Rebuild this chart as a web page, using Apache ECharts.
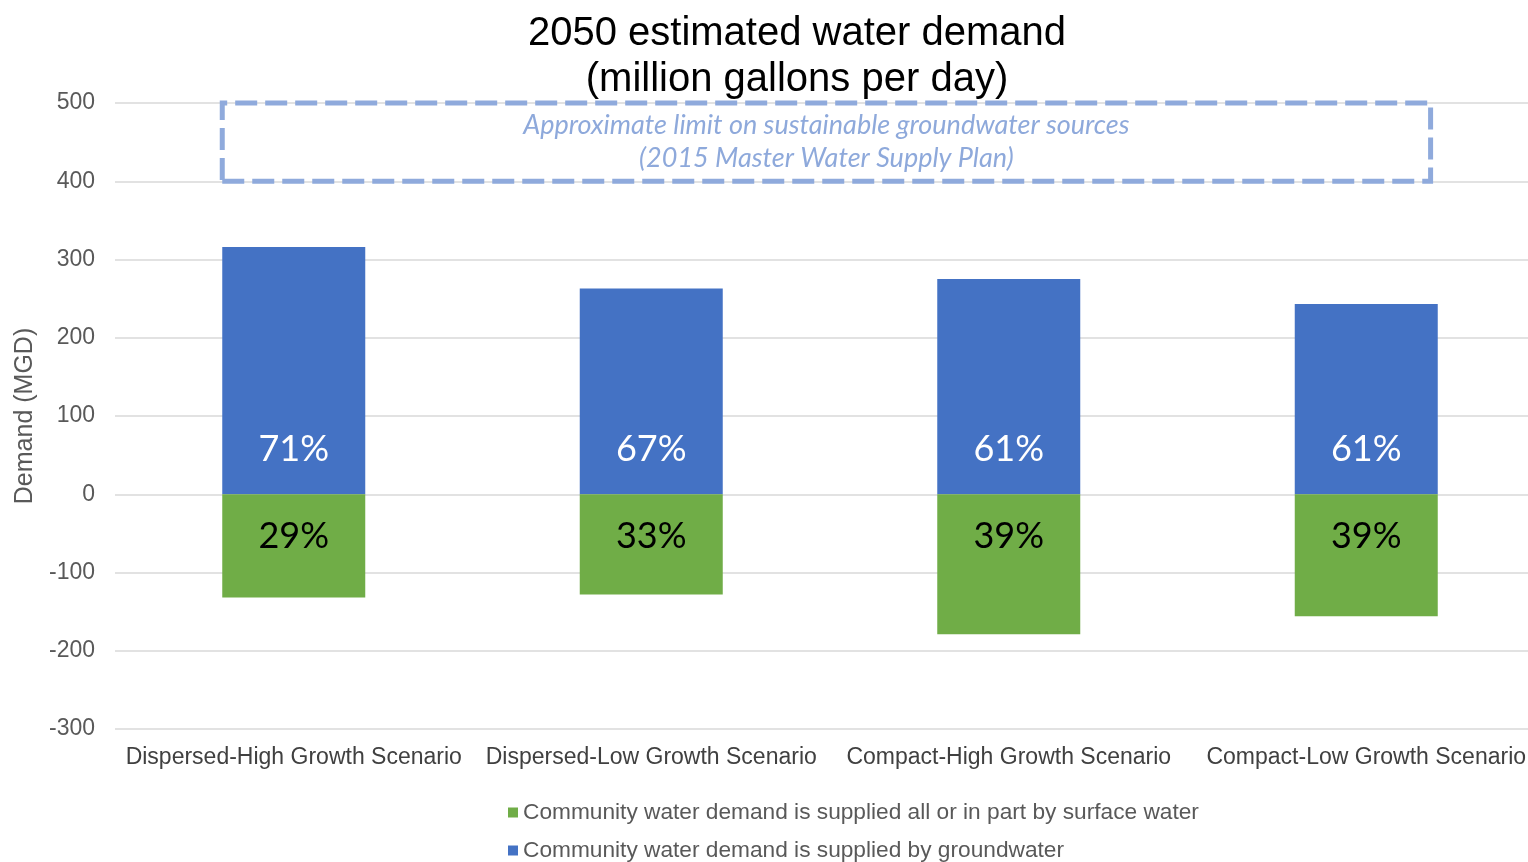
<!DOCTYPE html>
<html>
<head>
<meta charset="utf-8">
<script src="https://cdn.jsdelivr.net/npm/echarts@6/dist/echarts.min.js"></script>
<style>html,body{margin:0;padding:0;background:#fff;}#chart{width:1528px;height:862px;}</style>
</head>
<body>
<div id="chart"></div>
<script>
const categories = ['Dispersed-High Growth Scenario', 'Dispersed-Low Growth Scenario', 'Compact-High Growth Scenario', 'Compact-Low Growth Scenario'];
const groundwater = [316, 263, 275, 243];
const surfaceWater = [-132, -128, -179, -156];
const groundwaterPct = ['71%', '67%', '61%', '61%'];
const surfacePct = ['29%', '33%', '39%', '39%'];
const yTicks = { min: -300, max: 500, interval: 100 };
const limitBox = { yFrom: 400, yTo: 500, xFrom: 0.3, xTo: 3.68 };
const seriesNames = ['Community water demand is supplied all or in part by surface water', 'Community water demand is supplied by groundwater'];

const legendText = { fontFamily: 'Liberation Sans, Arial', fontSize: 22.7, color: '#595959' };
const chart = echarts.init(document.getElementById('chart'));
chart.setOption({
  animation: false,
  title: {
    text: '2050 estimated water demand\n(million gallons per day)',
    left: 792, top: 6, textAlign: 'center',
    textStyle: { fontFamily: 'Liberation Sans, Arial', fontSize: 40, fontWeight: 'normal', color: '#000', lineHeight: 46 }
  },
  legend: [{
    left: 508, top: 801, padding: 0, itemWidth: 10, itemHeight: 10, icon: 'rect',
    data: [seriesNames[0]], textStyle: legendText
  }, {
    left: 508, top: 839, padding: 0, itemWidth: 10, itemHeight: 10, icon: 'rect',
    data: [seriesNames[1]], textStyle: legendText
  }],
  grid: { left: 115, top: 103, bottom: 133, width: 1430, containLabel: false, outerBoundsMode: 'none' },
  xAxis: [{
    type: 'category', data: categories, position: 'bottom',
    axisLine: { show: false }, axisTick: { show: false },
    axisLabel: { fontFamily: 'Liberation Sans, Arial', fontSize: 23, color: '#404040', margin: 17, interval: 0 }
  }, {
    type: 'value', min: 0, max: 4, show: false
  }],
  yAxis: {
    type: 'value', min: yTicks.min, max: yTicks.max, interval: yTicks.interval,
    name: 'Demand (MGD)', nameLocation: 'middle', nameGap: 69,
    nameTextStyle: { fontFamily: 'Liberation Sans, Arial', fontSize: 25, color: '#595959' },
    axisLine: { show: false }, axisTick: { show: false },
    axisLabel: { fontFamily: 'Liberation Sans, Arial', fontSize: 23, color: '#595959', margin: 20 },
    splitLine: { lineStyle: { color: '#D9D9D9', width: 1.5 } }
  },
  series: [{
    name: seriesNames[1], type: 'bar', stack: 'total', data: groundwater, barWidth: 143,
    itemStyle: { color: '#4472C4' },
    label: { show: true, position: 'insideBottom', distance: 27, formatter: p => groundwaterPct[p.dataIndex],
      fontFamily: 'Lato, Open Sans', fontSize: 36, color: '#fff' }
  }, {
    name: seriesNames[0], type: 'bar', stack: 'total', data: surfaceWater, barWidth: 143,
    itemStyle: { color: '#70AD47' },
    label: { show: true, position: 'insideTop', distance: 24, formatter: p => surfacePct[p.dataIndex],
      fontFamily: 'Lato, Open Sans', fontSize: 36, color: '#000' }
  }, {
    name: 'limit', type: 'line', xAxisIndex: 1, data: [], silent: true,
    markArea: {
      silent: true,
      itemStyle: { color: 'rgba(0,0,0,0)', borderColor: '#8FAADC', borderWidth: 5, borderType: [22, 8] },
      label: { show: true, position: 'inside', formatter: 'Approximate limit on sustainable groundwater sources\n(2015 Master Water Supply Plan)',
        fontFamily: 'Lato, Open Sans', fontStyle: 'italic', fontSize: 27, lineHeight: 33, color: '#8EA9DB', align: 'center' },
      data: [[{ coord: [limitBox.xFrom, limitBox.yFrom] }, { coord: [limitBox.xTo, limitBox.yTo] }]]
    }
  }]
});
</script>
</body>
</html>
